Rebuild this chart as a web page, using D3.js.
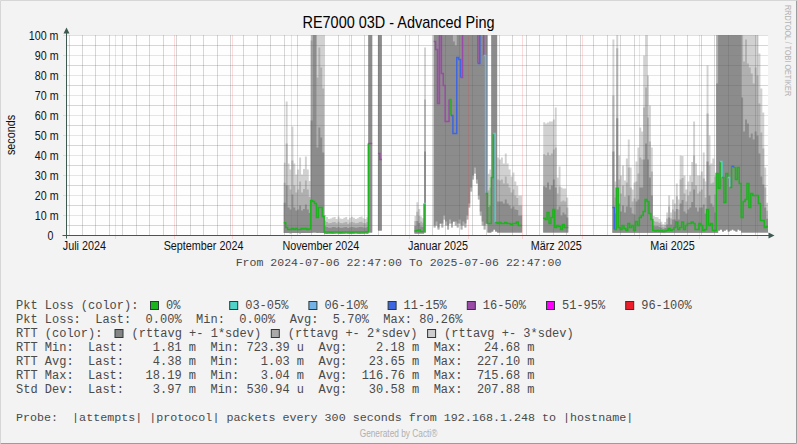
<!DOCTYPE html>
<html><head><meta charset="utf-8">
<script src="https://cdn.jsdelivr.net/npm/d3@7"></script>
<style>html,body{margin:0;padding:0;background:#f3f3f3}svg{display:block}</style>
</head><body><svg id="c" width="797" height="444"></svg>
<script>
// ---- DATA (one sample per day, starting 2024-10-28; null = no data) ----
const startDay = new Date(2024, 9, 28);
const rangeStart = new Date(2024, 6, 6, 22, 47);
const rangeEnd = new Date(2025, 6, 6, 22, 47);

// RTT average (ms)
const rttAvg = [
 6.4,4,3,3,3.5,3,3.5,3,3,3.5,3.2,3.5,3,3.2,17.5,17,16,9,14,14,9.5,
 1.8,1.7,1.7,1.6,1.8,1.7,1.7,1.7,1.6,1.7,1.7,1.8,1.7,1.7,1.6,1.7,1.7,1.7,1.8,1.7,1.7,1.7,1.9,
 46,46,
 null,null,null,
 41,38,
 null,null,null,null,null,null,null,null,null,null,null,null,null,null,null,null,null,
 2.2,2.5,2.8,2,2,16,
 null,null,null,null,
 97,93,66,140,81,75,57,57,68,60,51,51,89,88,79,150,160,145,140,150,145,140,150,86,130,140,90,21,6,6,29,51,6.5,
 6,6.5,6,6,6.5,6,6,5.5,6,6,6.8,5,5,
 null,null,null,null,null,null,null,null,null,null,null,
 8.6,8,11.5,6,9,13,4,5,4.5,3,5.5,4,4,
 null,null,null,null,null,null,null,null,null,null,null,null,null,null,null,null,null,null,null,null,null,null,null,
 14,3,23.6,4,3,5,3.5,2.5,6,4,
 5,2.5,7,5,9,10,12,18,17,11,
 8,2.5,2.3,2.5,2.2,2.4,2.0,2.2,2.5,3.5,
 2.5,3,4,6.8,3,4,6.8,3,5,6,
 6,6.8,6,3,3,6,5,2.5,3,13,
 5,6,2.5,2.5,31,23.6,37,29,16.5,31,
 29,24,34.6,34,28,34,26,9,17,18,
 26,14,21,20,20,20,16,7.5,7.5,4,
 4.4
];
// RTT standard deviation (ms)
const rttSdev = [
 10,21,11,10,17,11,9,10,12,9,10,12,10,8,40,100,90,35,40,35,32,
 2.8,2.5,2.2,2.3,2.4,2.5,2.2,2.6,2.3,2.2,2.4,2.5,2.1,2.4,2.6,2.4,2.2,2.3,2.5,2.6,2.3,2.2,2.4,
 160,150,
 null,null,null,
 90,90,
 null,null,null,null,null,null,null,null,null,null,null,null,null,null,null,null,null,
 2.5,4.7,3.5,2.5,2.2,26,
 null,null,null,null,
 92,86,62,134,75,65,50,52,60,54,46,44,83,80,74,143,154,135,124,126,115,106,122,66,118,133,85,80,8.3,9,80,80,95,
 11,10.5,11,10,11.5,10,9,8,8.5,7,6,5,5,
 null,null,null,null,null,null,null,null,null,null,null,
 16,16,15,17,16,15,20,8,10,7,6,6.5,5,
 null,null,null,null,null,null,null,null,null,null,null,null,null,null,null,null,null,null,null,null,null,null,null,
 28,8,35,12,9,10,8,12,14,10,
 6,8,10,13,15,14,26,28,21,18,
 12,2.4,2.3,2.2,2.0,1.5,1.2,1.5,3,5.5,
 3,5,4,6.4,5,12,11,9,6,7,
 8,10,17,11,9,8,9,13,8,24,
 15,10,12,9,45,80,90,85,90,80,
 85,90,85,80,90,85,80,60,35,40,
 30,35,30,28,32,30,25,22,18,10,
 4
];
// RTT minimum (ms) - lower floor of the deviation bands
const rttMin = [
 1.3,1.2,1.2,1.1,1.2,1.3,1.2,1.2,1.1,1.2,1.2,1.3,1.2,1.2,1.4,1.5,1.5,1.3,1.4,1.3,1.2,
 0.9,0.8,0.9,0.9,0.8,0.9,1,0.9,0.8,0.9,0.9,1,0.9,0.8,0.9,0.9,1,0.9,0.8,0.9,0.9,1,0.9,
 1.5,1.5,
 null,null,null,
 2.5,2.5,
 null,null,null,null,null,null,null,null,null,null,null,null,null,null,null,null,null,
 1,1,1,1,1,1.5,
 null,null,null,null,
 4,5,3,6,4,8,5,3,6,4,7,5,4,6,3,5,4,8,14,22,28,31,26,18,10,5,3,6,1.5,1.5,2,3,2,
 1.5,1.5,1.5,1.5,1.5,1.5,1.5,1.5,1.5,1.5,1.5,1.5,1.5,
 null,null,null,null,null,null,null,null,null,null,null,
 1.5,1.5,1.5,1.5,1.5,1.5,1.5,1.5,1.5,1.5,1.5,1.5,1.5,
 null,null,null,null,null,null,null,null,null,null,null,null,null,null,null,null,null,null,null,null,null,null,null,
 1.4,1.4,1.4,1.4,1.4,1.4,1.4,1.4,1.4,1.4,
 1.4,1.4,1.4,1.4,1.4,1.4,1.4,1.4,1.4,1.4,
 1.4,1.4,1.4,1.4,1.4,1.4,1.4,1.4,1.4,1.4,
 1.4,1.4,1.4,1.4,1.4,1.4,1.4,1.4,1.4,1.4,
 1.4,1.4,1.4,1.4,1.4,1.4,1.4,1.4,1.4,1.4,
 1.4,1.4,1.4,1.4,1.4,2.5,3,2,2.5,3,
 2,2.5,3,2.5,2,3,2.5,1.5,1.5,1.5,
 1.5,1.5,1.5,1.5,1.5,1.5,1.5,1.5,1.5,1.5,
 1.5
];
// packet loss (%)
const pktLoss = [
 0,0,0,0,0,0,0,0,0,0,0,0,0,0,0,0,0,0,0,0,0,
 0,0,0,0,0,0,0,0,0,0,0,0,0,0,0,0,0,0,0,0,0,0,0,
 25,25,
 null,null,null,
 30,30,
 null,null,null,null,null,null,null,null,null,null,null,null,null,null,null,null,null,
 0,0,0,0,0,4,
 null,null,null,null,
 25,25,30,25,30,30,30,30,0,12,12,12,12,12,30,30,30,30,30,30,30,30,30,12,30,30,8,0,0,0,0,4,0,
 0,0,0,0,0,0,0,0,0,0,0,0,0,
 null,null,null,null,null,null,null,null,null,null,null,
 0,0,0,0,0,0,0,0,0,0,0,0,0,
 null,null,null,null,null,null,null,null,null,null,null,null,null,null,null,null,null,null,null,null,null,null,null,
 12,0,0,0,0,0,0,0,0,0,
 0,0,0,0,0,0,0,0,0,0,
 0,0,0,0,0,0,0,0,0,0,
 0,0,0,0,0,0,0,0,0,0,
 0,0,0,0,0,0,0,0,0,0,
 0,0,0,0,0,0,4,0,0,0,
 4,0,12,0,0,0,0,0,0,0,
 0,0,0,0,0,0,0,0,0,0,
 0
];

const lossLabels = ["0%","03-05%","06-10%","11-15%","16-50%","51-95%","96-100%"];
const lossUpper  = [0,5,10,15,50,95,100];
const lossColors = ["#1cb41c","#4fd2c8","#72b2e6","#3d66e0","#9c4aa8","#ff00ff","#ee1c2a"];
const bandLabels = ["(rttavg +- 1*sdev)","(rttavg +- 2*sdev)","(rttavg +- 3*sdev)"];
const bandColors = ["#8c8c8c","#b0b0b0","#d1d1d1"];
const bandLegendColors = ["#858585","#a9a9a9","#cdcdcd"];

const yTicks = [0,10,20,30,40,50,60,70,80,90,100];
const yMinor = [5,15,25,35,45,55,65,75,85,95];
const xLabelDates = [new Date(2024,6,16), new Date(2024,8,16), new Date(2024,10,16), new Date(2025,0,16), new Date(2025,2,18,12), new Date(2025,4,18)];
const xLabelTexts = ["Juli 2024","September 2024","November 2024","Januar 2025","März 2025","Mai 2025"];

const statLines = [
 "Pkt Loss:  Last:  0.00%  Min:  0.00%  Avg:  5.70%  Max: 80.26%",
 null,
 "RTT Min:  Last:    1.81 m  Min: 723.39 u  Avg:    2.18 m  Max:   24.68 m",
 "RTT Avg:  Last:    4.38 m  Min:   1.03 m  Avg:   23.65 m  Max:  227.10 m",
 "RTT Max:  Last:   18.19 m  Min:   3.04 m  Avg:  116.76 m  Max:  715.68 m",
 "Std Dev:  Last:    3.97 m  Min: 530.94 u  Avg:   30.58 m  Max:  207.88 m"
];

// ---- DRAW ----
const SANS = "'Liberation Sans',Arial,sans-serif";
const MONO = "'Liberation Mono','Courier New',monospace";
const AXIS = "#3c5a52";
const TXT = "#4a4a4a";
// condense sans text horizontally (narrow face)
function narrow(sel, f) {
  sel.each(function () {
    const w = this.getComputedTextLength();
    d3.select(this).attr("textLength", (w * f).toFixed(2)).attr("lengthAdjust", "spacingAndGlyphs");
  });
}
const svg = d3.select("#c");
svg.append("rect").attr("width",797).attr("height",444).attr("fill","#f3f3f3");
svg.append("path").attr("d","M0.5,443V0.5H796").attr("fill","none").attr("stroke","#d6d6d6");
svg.append("path").attr("d","M0.5,443.5H796.5V0.5").attr("fill","none").attr("stroke","#9c9c9c");

const x = d3.scaleTime().domain([rangeStart, rangeEnd]).range([66.5, 768]);
const y = d3.scaleLinear().domain([0,100]).range([235.5, 35.5]);
const px = d => Math.round(x(d)) + 0.5;

svg.append("rect").attr("x",66.5).attr("y",35.5).attr("width",701.5).attr("height",200).attr("fill","#fefefe");
svg.append("defs").append("clipPath").attr("id","clip").append("rect")
  .attr("x",67).attr("y",35).attr("width",701).attr("height",200.5);
const plot = svg.append("g").attr("clip-path","url(#clip)");

const tOf = i => d3.timeDay.offset(startDay, i);
const segs = []; let cur = null;
rttAvg.forEach((v,i) => { if (v == null) cur = null; else { if (!cur) { cur = []; segs.push(cur); } cur.push(i); } });

[3,2,1].forEach(k => {
  segs.forEach(seg => {
    const pts = seg.map(i => {
      const lo = Math.max(rttMin[i], rttAvg[i] - k*rttSdev[i]);
      const hi = Math.min(rttAvg[i] + k*rttSdev[i], 110);
      return {t: tOf(i), lo: Math.min(lo, hi), hi};
    });
    const last = pts[pts.length-1];
    pts.push({t: tOf(seg[seg.length-1]+1), lo: last.lo, hi: last.hi});
    plot.append("path")
      .attr("d", d3.area().x(d => x(d.t)).y0(d => y(d.lo)).y1(d => y(d.hi)).curve(d3.curveStepAfter)(pts))
      .attr("fill", bandColors[k-1]);
  });
});

// grid (drawn over the bands)
const grid = svg.append("g");
const minorC = "rgba(95,95,95,0.5)", majorC = "rgba(240,60,60,0.36)";
yMinor.forEach(v => grid.append("line").attr("x1",66.5).attr("x2",768).attr("y1",y(v)).attr("y2",y(v))
  .attr("stroke",minorC).attr("stroke-dasharray","1,1"));
const months = d3.timeMonth.range(rangeStart, rangeEnd);
const monthKeys = new Set(months.map(d => +d3.timeDay.floor(d)));
d3.timeMonday.range(rangeStart, rangeEnd).filter(d => !monthKeys.has(+d)).forEach(d =>
  grid.append("line").attr("x1",px(d)).attr("x2",px(d)).attr("y1",35.5).attr("y2",235.5)
   .attr("stroke",minorC).attr("stroke-dasharray","1,1"));
yTicks.filter(v => v > 0).forEach(v => grid.append("line").attr("x1",63.5).attr("x2",768).attr("y1",y(v)).attr("y2",y(v))
  .attr("stroke",majorC).attr("stroke-dasharray","1,1"));
months.forEach(d => grid.append("line").attr("x1",px(d)).attr("x2",px(d)).attr("y1",35.5).attr("y2",238.5)
  .attr("stroke",majorC).attr("stroke-dasharray","1,1"));

// avg line coloured by packet loss
const cls = v => d3.bisectLeft(lossUpper, v);
const lineG = svg.append("g").attr("clip-path","url(#clip)");
segs.forEach(seg => {
  let s = 0;
  while (s < seg.length) {
    let e = s; const c = cls(pktLoss[seg[s]]);
    while (e+1 < seg.length && cls(pktLoss[seg[e+1]]) === c) e++;
    const pts = seg.slice(s, e+1).map(i => [tOf(i), rttAvg[i]]);
    const nx = seg[e] + 1;
    pts.push([tOf(nx), e+1 < seg.length ? rttAvg[nx] : rttAvg[seg[e]]]);
    lineG.append("path")
      .attr("d", d3.line().x(d => x(d[0])).y(d => y(Math.min(d[1], 112))).curve(d3.curveStepAfter)(pts))
      .attr("fill","none").attr("stroke", lossColors[c]).attr("stroke-width",1.5);
    s = e + 1;
  }
});

// axes
svg.append("line").attr("x1",66.5).attr("x2",66.5).attr("y1",238.5).attr("y2",31).attr("stroke",AXIS);
svg.append("path").attr("d","M63.5,33.5L69.5,33.5L66.5,27.5Z").attr("fill",AXIS);
svg.append("line").attr("x1",62.5).attr("x2",770).attr("y1",235.5).attr("y2",235.5).attr("stroke",AXIS);
svg.append("path").attr("d","M768.5,232.5L768.5,238.5L774.5,235.5Z").attr("fill",AXIS);

const yAxis = svg.append("g").attr("transform","translate(58.5,0)")
  .call(d3.axisLeft(y).tickValues(yTicks).tickSize(0).tickPadding(0).tickFormat(d => d === 0 ? "0" : d + " m"));
yAxis.select(".domain").remove();
yAxis.selectAll("text").attr("font-family",SANS).attr("font-size",13).attr("fill","#111")
  .attr("x", d => d === 0 ? -5 : 0);
narrow(yAxis.selectAll("text"), 0.82);

const xAxis = svg.append("g").attr("transform","translate(0,235.5)")
  .call(d3.axisBottom(x).tickValues(xLabelDates).tickSize(0).tickPadding(5).tickFormat((d,i) => xLabelTexts[i]));
xAxis.select(".domain").remove();
xAxis.selectAll("text").attr("font-family",SANS).attr("font-size",13).attr("fill","#111");
narrow(xAxis.selectAll("text"), 0.83);

// texts
narrow(svg.append("text").attr("x",398.5).attr("y",28).attr("text-anchor","middle")
  .attr("font-family",SANS).attr("font-size",17).attr("fill","#000").text("RE7000 03D - Advanced Ping"), 0.85);
narrow(svg.append("text").attr("transform","translate(14.5,135) rotate(-90)").attr("text-anchor","middle")
  .attr("font-family",SANS).attr("font-size",13).attr("fill","#111").text("seconds"), 0.83);
narrow(svg.append("text").attr("transform","translate(785,5) rotate(90)").attr("text-anchor","start")
  .attr("font-family",SANS).attr("font-size",8.7).attr("fill","#b4b4b4").text("RRDTOOL / TOBI OETIKER"), 0.83);
svg.append("text").attr("x",398.5).attr("y",266).attr("text-anchor","middle")
  .attr("font-family",MONO).attr("font-size",11.55).attr("fill",TXT)
  .text("From 2024-07-06 22:47:00 To 2025-07-06 22:47:00");

const leg = svg.append("g").attr("font-family",MONO).attr("font-size",12).attr("fill",TXT);
const lx = 16, lineH = 14, base = 309;
leg.append("text").attr("x",lx).attr("y",base).text("Pkt Loss (color):");
lossLabels.forEach((lab,k) => {
  const bx = 150.5 + k*79.2;
  leg.append("rect").attr("x",bx).attr("y",base-7.5).attr("width",8).attr("height",8)
    .attr("fill",lossColors[k]).attr("stroke","#2a3a36");
  leg.append("text").attr("x",bx+15.5).attr("y",base).text(lab);
});
leg.append("text").attr("x",lx).attr("y",base+lineH).style("white-space","pre").text(statLines[0]);
leg.append("text").attr("x",lx).attr("y",base+2*lineH).text("RTT (color):");
bandLabels.forEach((lab,k) => {
  const bx = 115 + k*156.3;
  leg.append("rect").attr("x",bx).attr("y",base+2*lineH-7.5).attr("width",8).attr("height",8)
    .attr("fill",bandLegendColors[k]).attr("stroke","#2a3a36");
  leg.append("text").attr("x",bx+16.5).attr("y",base+2*lineH).style("white-space","pre").text(lab);
});
statLines.slice(2).forEach((s,k) => leg.append("text").attr("x",lx).attr("y",base+(3+k)*lineH)
  .style("white-space","pre").text(s));

svg.append("text").attr("x",16).attr("y",421).attr("font-family",MONO).attr("font-size",11.7).attr("fill",TXT)
  .style("white-space","pre")
  .text("Probe:  |attempts| |protocol| packets every 300 seconds from 192.168.1.248 to |hostname|");
narrow(svg.append("text").attr("x",398.5).attr("y",437).attr("text-anchor","middle")
  .attr("font-family",SANS).attr("font-size",10).attr("fill","#b0b0b0").text("Generated by Cacti®"), 0.83);
</script></body></html>
